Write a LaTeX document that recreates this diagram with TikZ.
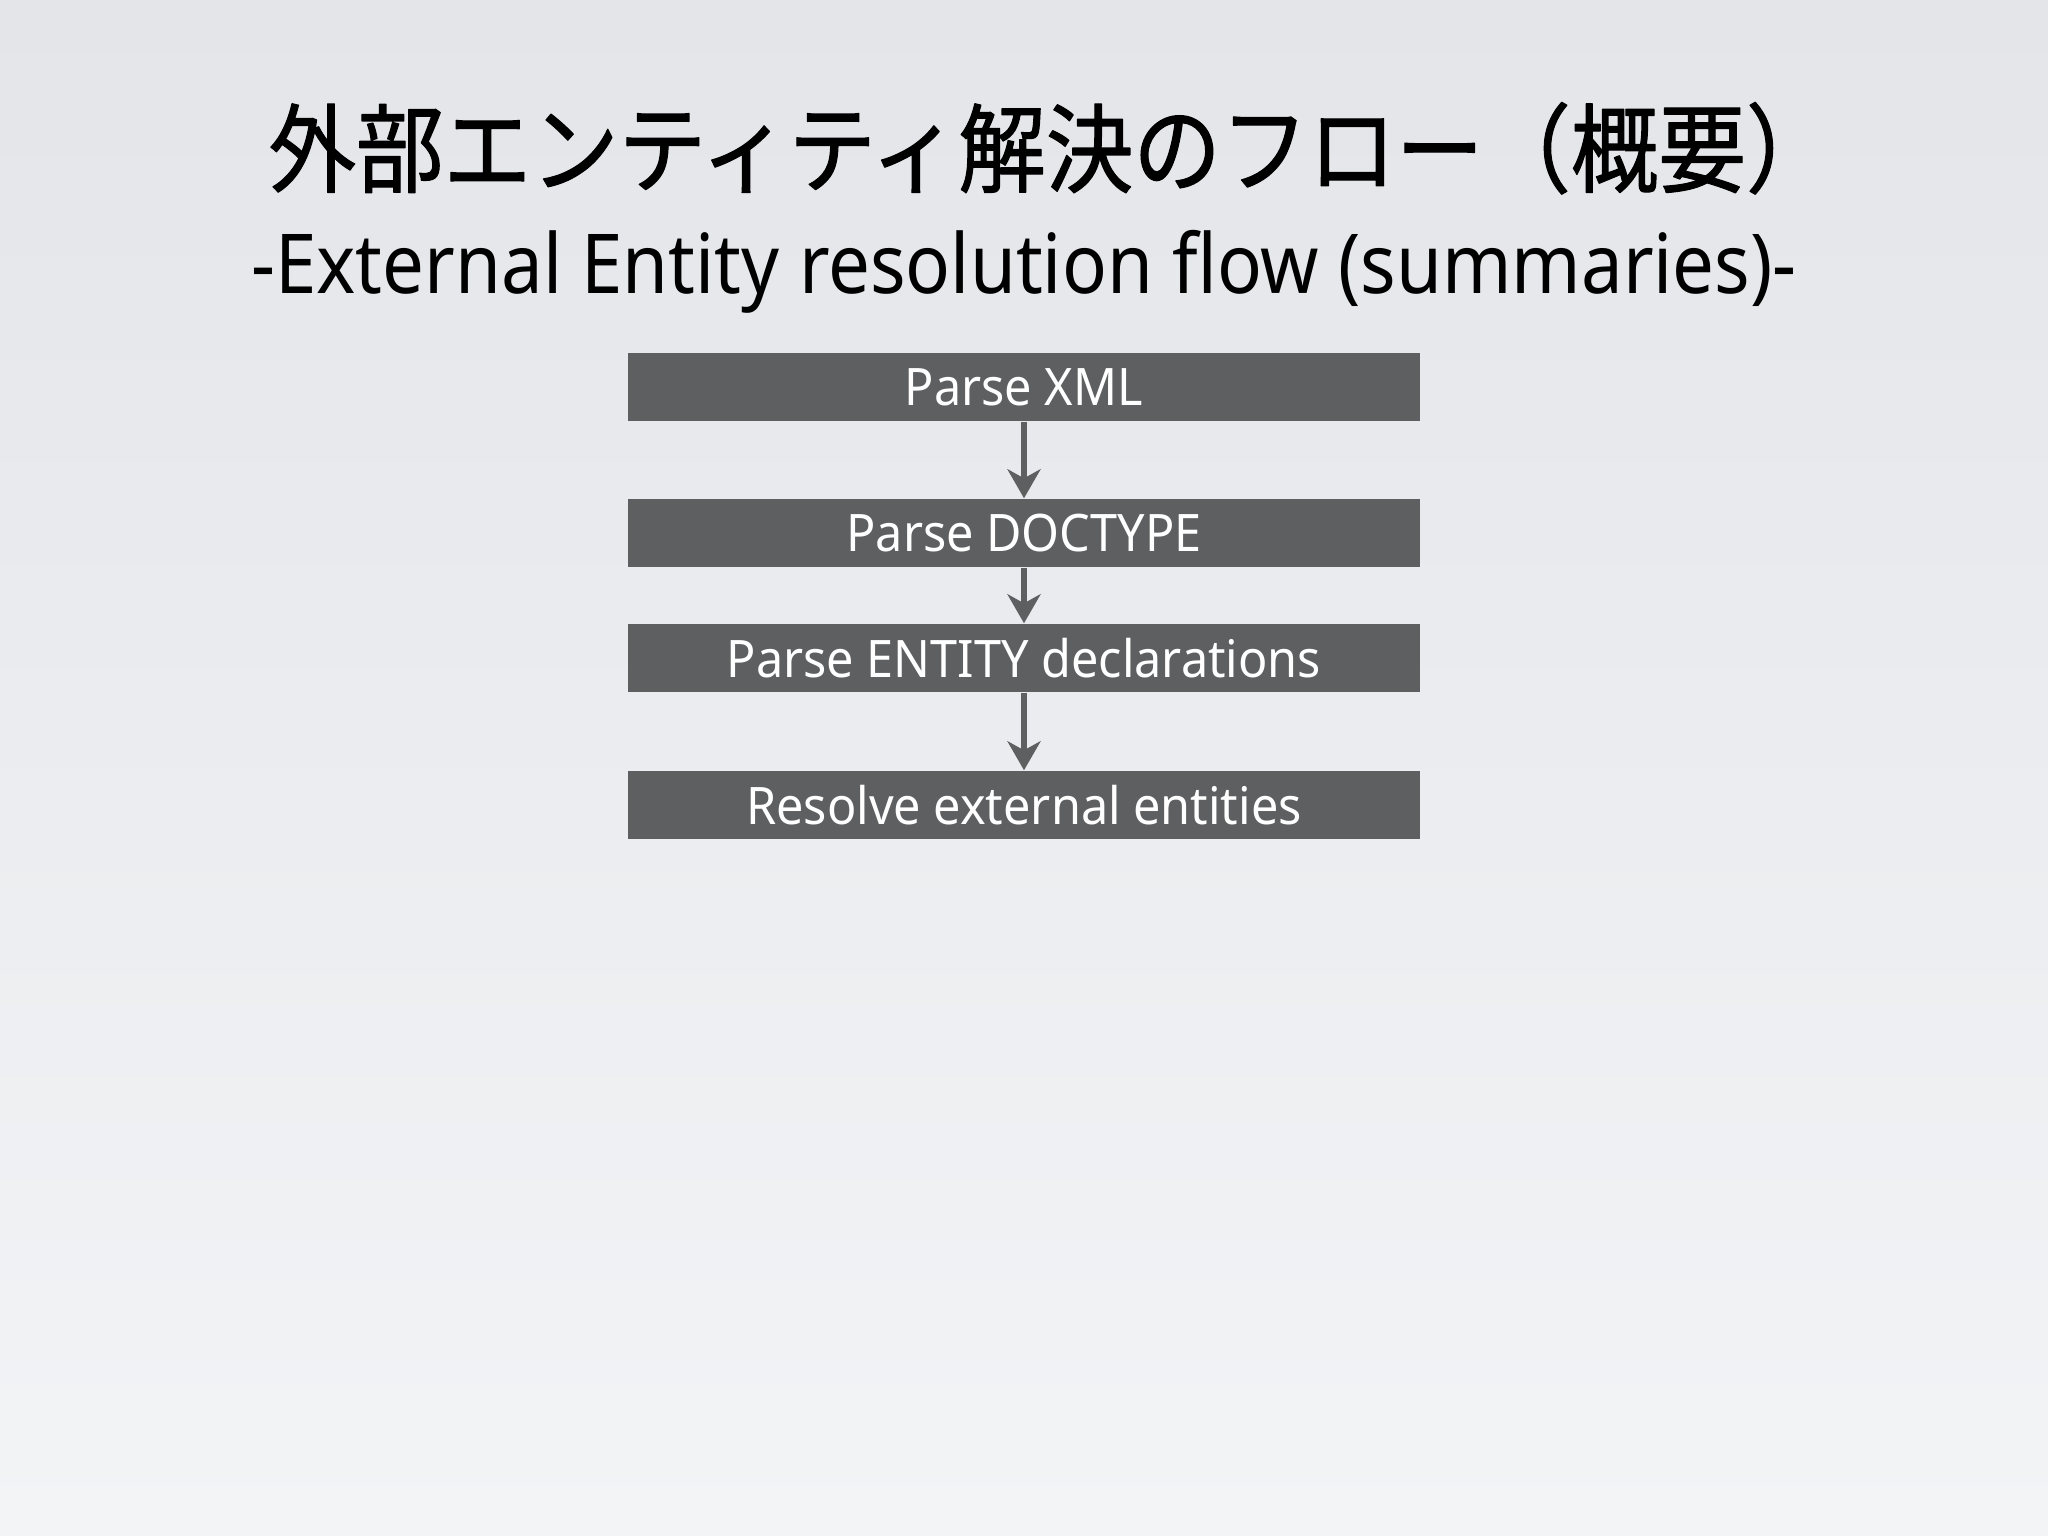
\documentclass[tikz,border=0pt]{standalone}
\usepackage{fontspec}
\setmainfont{Noto Sans}[FakeStretch = 0.94]
\newfontfamily\subfont{Noto Sans}[FakeStretch = 0.9]
\newfontfamily\jpfont{Noto Sans CJK JP}[FakeStretch = 0.905, FakeBold = 1.2]
\usetikzlibrary{arrows.meta}

\definecolor{bgtop}{HTML}{E3E5E9}
\definecolor{bgbot}{HTML}{F3F4F6}
\definecolor{boxgray}{HTML}{5E5F60}

\begin{document}
\begin{tikzpicture}[line join = round, x = 0.01cm, y = -0.01cm,
  stepbox/.style = {fill = boxgray, text = white, inner sep = 0,
    minimum width = 7.92cm, minimum height = 0.68cm,
    font = \fontsize{14.7}{16}\selectfont},
  flow/.style = {draw = boxgray, line width = 0.06cm,
    -{Stealth[length = 0.29cm, width = 0.33cm, inset = 0.09cm]}}]
  \shade[top color = bgtop, bottom color = bgbot] (0, 0) rectangle (2048, 1536);
  \useasboundingbox (0, 0) rectangle (2048, 1536);

  % title
  \node[anchor = base, inner sep = 0] (T1) at (1051, 185)
  {\jpfont\fontsize{27.5}{30}\selectfont 外部エンティティ解決のフロー（概要）};
  \node[anchor = base, inner sep = 0] (T2) at (1024, 293)
  {\subfont\fontsize{23.5}{26}\selectfont -External Entity resolution flow (summaries)-};

  % steps
  \node[stepbox] (P1) at (1024, 387) {Parse XML};
  \node[stepbox] (P2) at (1024, 533) {Parse DOCTYPE};
  \node[stepbox] (P3) at (1024, 658) {Parse ENTITY declarations};
  \node[stepbox] (P4) at (1024, 805) {Resolve external entities};

  \draw[flow] (P1) -- (P2);
  \draw[flow] (P2) -- (P3);
  \draw[flow] (P3) -- (P4);
\end{tikzpicture}
\end{document}
